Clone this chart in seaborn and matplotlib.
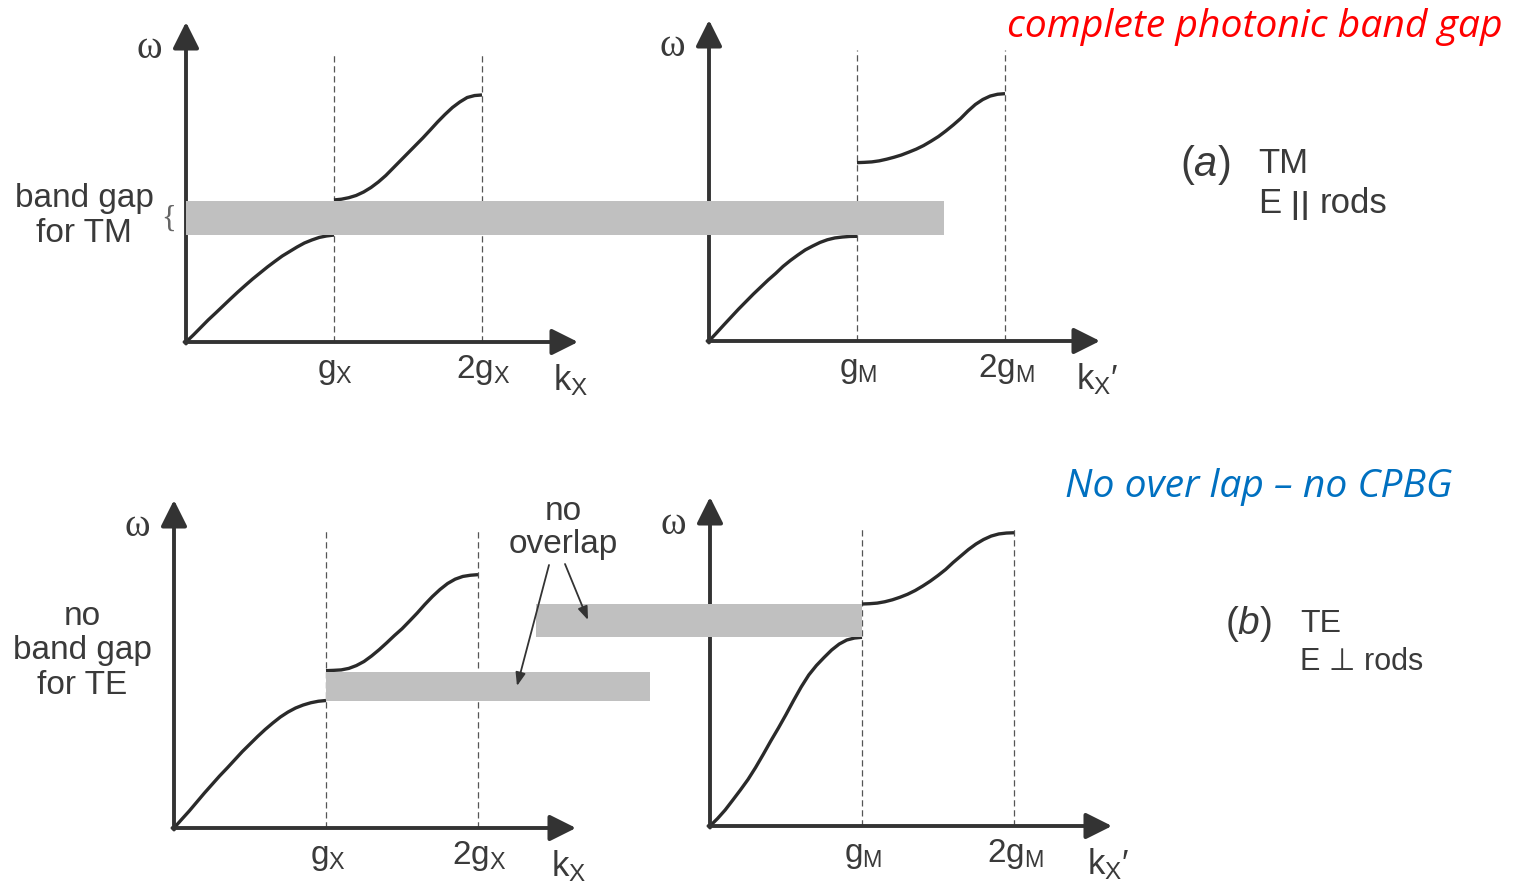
import matplotlib
matplotlib.use("Agg")
import matplotlib.pyplot as plt
import seaborn as sns
from matplotlib.patches import Rectangle, FancyArrowPatch

# Band diagram values.
# k in units of the reciprocal lattice vector g, omega in arbitrary units.
k_band1 = [0.0, 0.05, 0.1, 0.15, 0.2, 0.25, 0.3, 0.35, 0.4, 0.45, 0.5,
           0.55, 0.6, 0.65, 0.7, 0.75, 0.8, 0.85, 0.9, 0.95, 1.0]
k_band2 = [1.0, 1.05, 1.1, 1.15, 1.2, 1.25, 1.3, 1.35, 1.4, 1.45, 1.5,
           1.55, 1.6, 1.65, 1.7, 1.75, 1.8, 1.85, 1.9, 1.95, 2.0]

# (a) TM
tm_x_band1 = [0.0, 0.047, 0.097, 0.147, 0.193, 0.24, 0.287, 0.333, 0.377, 0.42, 0.46,
              0.50, 0.537, 0.573, 0.603, 0.633, 0.66, 0.68, 0.697, 0.707, 0.713]
tm_x_band2 = [0.947, 0.952, 0.962, 0.977, 1.0, 1.03, 1.067, 1.11, 1.16, 1.21, 1.26,
              1.31, 1.36, 1.413, 1.467, 1.517, 1.563, 1.6, 1.63, 1.643, 1.647]
tm_m_band1 = [0.0, 0.053, 0.107, 0.16, 0.213, 0.263, 0.313, 0.36, 0.407, 0.45, 0.497,
              0.537, 0.573, 0.607, 0.633, 0.657, 0.675, 0.687, 0.693, 0.697, 0.698]
tm_m_band2 = [1.189, 1.191, 1.194, 1.201, 1.212, 1.225, 1.24, 1.259, 1.279, 1.303, 1.332,
              1.363, 1.40, 1.44, 1.483, 1.533, 1.577, 1.61, 1.633, 1.645, 1.649]

# (b) TE
te_x_band1 = [0.0, 0.057, 0.113, 0.173, 0.233, 0.29, 0.347, 0.40, 0.455, 0.51, 0.56,
              0.61, 0.657, 0.70, 0.74, 0.773, 0.80, 0.82, 0.835, 0.845, 0.85]
te_x_band2 = [1.049, 1.051, 1.054, 1.064, 1.083, 1.11, 1.147, 1.189, 1.235, 1.283, 1.328,
              1.38, 1.433, 1.49, 1.543, 1.59, 1.63, 1.659, 1.677, 1.685, 1.689]
te_m_band1 = [0.0, 0.05, 0.107, 0.173, 0.24, 0.31, 0.39, 0.477, 0.567, 0.653, 0.743,
              0.837, 0.927, 1.007, 1.07, 1.123, 1.173, 1.213, 1.24, 1.253, 1.258]
te_m_band2 = [1.48, 1.482, 1.486, 1.495, 1.508, 1.525, 1.545, 1.57, 1.60, 1.633, 1.67,
              1.71, 1.757, 1.80, 1.843, 1.88, 1.91, 1.933, 1.947, 1.953, 1.955]

# gaps (omega low, omega high)
tm_gap = (0.71, 0.93)
te_gap_x = (0.85, 1.04)
te_gap_m = (1.26, 1.48)

ticks_x = [r"g$_\mathregular{X}$", r"2g$_\mathregular{X}$"]
ticks_m = [r"g$_\mathregular{M}$", r"2g$_\mathregular{M}$"]
klabel_x = r"k$_\mathregular{X}$"
klabel_m = r"k$_\mathregular{X}$′"

W, H = 1523, 892
OMEGA_PX = 150  # pixels per omega unit
INK = "#333333"
TXT = "#3a3a3a"

sns.set_theme(style="white")
plt.rcParams["font.family"] = ["Liberation Sans", "DejaVu Sans"]
plt.rcParams["mathtext.fontset"] = "custom"
plt.rcParams["mathtext.rm"] = "Liberation Sans"
plt.rcParams["mathtext.it"] = "Liberation Sans:italic"

fig = plt.figure(figsize=(W / 100, H / 100), dpi=100)


def fpos(x, y):
    """pixel position (from top-left) -> figure fraction"""
    return x / W, 1 - y / H


def make_panel(x0, y0, xtip, ytip, gpx):
    ax = fig.add_axes([x0 / W, 1 - y0 / H, (xtip - x0) / W, (y0 - ytip) / H])
    ax.set_xlim(0, (xtip - x0) / gpx)
    ax.set_ylim(0, (y0 - ytip) / OMEGA_PX)
    ax.axis("off")
    return ax


def draw_panel(ax, band1, band2, ticks, klabel):
    xmax = ax.get_xlim()[1]
    ymax = ax.get_ylim()[1]
    for k in (1, 2):
        ax.plot([k, k], [0, ymax - 0.2], ls=(0, (5, 3)), lw=0.9, color="#555555", clip_on=False)
    for kk, ww in ((k_band1, band1), (k_band2, band2)):
        sns.lineplot(x=kk, y=ww, ax=ax, color="#2a2a2a", lw=2.4, estimator=None,
                     sort=False, legend=False, clip_on=False,
                     solid_joinstyle="round", solid_capstyle="butt")
    arrow = dict(arrowstyle="-|>,head_length=0.8,head_width=0.4", mutation_scale=20,
                 lw=2.8, color=INK, shrinkA=0, shrinkB=0)
    ax.annotate("", xy=(xmax, 0), xytext=(-0.01, 0), arrowprops=arrow, annotation_clip=False)
    ax.annotate("", xy=(0, ymax), xytext=(0, -0.01), arrowprops=arrow, annotation_clip=False)
    for k, lab in zip((1, 2), ticks):
        ax.text(k + 0.01, -0.24, lab, ha="center", va="baseline", fontsize=24, color=TXT)
    ax.text(2.48, -0.32, klabel, ha="left", va="baseline", fontsize=25, color=TXT)
    ax.text(-0.245, ymax - 0.18, "ω", ha="center", va="center", fontsize=28, color=TXT,
            family=["Liberation Serif", "DejaVu Serif"])


def gap_bar(ax_a, k0, ax_b, k1, gap):
    xa = ax_a.transData.transform((k0, 0))[0]
    xb = ax_b.transData.transform((k1, 0))[0]
    _, ylo = ax_b.transData.transform((0, gap[0]))
    _, yhi = ax_b.transData.transform((0, gap[1]))
    inv = fig.transFigure.inverted()
    (fx0, fy0), (fx1, fy1) = inv.transform([(xa, ylo), (xb, yhi)])
    fig.add_artist(Rectangle((fx0, fy0), fx1 - fx0, fy1 - fy0, transform=fig.transFigure,
                             facecolor="#c0c0c0", edgecolor="none", zorder=5))


ax_tl = make_panel(186, 342, 578, 22, 148)
ax_tr = make_panel(709, 341, 1100, 20, 148)
ax_bl = make_panel(174, 828, 576, 500, 152)
ax_br = make_panel(710, 826, 1112, 497, 152)

draw_panel(ax_tl, tm_x_band1, tm_x_band2, ticks_x, klabel_x)
draw_panel(ax_tr, tm_m_band1, tm_m_band2, ticks_m, klabel_m)
draw_panel(ax_bl, te_x_band1, te_x_band2, ticks_x, klabel_x)
draw_panel(ax_br, te_m_band1, te_m_band2, ticks_m, klabel_m)

# gray gap bars
gap_bar(ax_tl, 0.0, ax_tr, 1.59, tm_gap)
gap_bar(ax_bl, 1.0, ax_bl, 3.13, te_gap_x)
gap_bar(ax_bl, 2.38, ax_br, 1.0, te_gap_m)

# "no overlap" arrows
for tail, tip in (((549, 565), (517, 686)), ((565, 564), (588, 620))):
    fig.add_artist(FancyArrowPatch(fpos(*tail), fpos(*tip), transform=fig.transFigure,
                                   arrowstyle="-|>,head_length=8,head_width=3", mutation_scale=1,
                                   lw=1.3, color=INK, shrinkA=0, shrinkB=0, zorder=6))

# side texts
fig.text(*fpos(84, 216), "band gap\nfor TM", ha="center", va="center", fontsize=24,
         linespacing=1.15, color=TXT)
fig.text(*fpos(169, 219), "{", ha="center", va="center", fontsize=22, color="#666666",
         family=["Liberation Serif", "DejaVu Serif"])
fig.text(*fpos(82, 651), "no\nband gap\nfor TE", ha="center", va="center", fontsize=24,
         linespacing=1.15, color=TXT)
fig.text(*fpos(563, 528), "no\noverlap", ha="center", va="center", fontsize=24,
         linespacing=1.1, color=TXT)

fig.text(*fpos(1205, 165), r"($\mathit{a}$)", ha="center", va="center", fontsize=30, color=TXT)
fig.text(*fpos(1258, 173), "TM", ha="left", va="baseline", fontsize=25, color=TXT)
fig.text(*fpos(1258, 213), "E", ha="left", va="baseline", fontsize=25, color=TXT)
fig.text(*fpos(1300, 206), "||", ha="center", va="center", fontsize=21, color=TXT,
         family="DejaVu Sans", weight="bold")
fig.text(*fpos(1320, 213), "rods", ha="left", va="baseline", fontsize=25, color=TXT)
fig.text(*fpos(1249, 624), r"($\mathit{b}$)", ha="center", va="center", fontsize=28, color=TXT)
fig.text(*fpos(1300, 632), "TE", ha="left", va="baseline", fontsize=23, color=TXT)
fig.text(*fpos(1300, 670), "E ⊥ rods", ha="left", va="baseline", fontsize=22, color=TXT)


def fit_text(x, y, s, width_px, **kw):
    t = fig.text(*fpos(x, y), s, fontsize=20, **kw)
    w = t.get_window_extent(renderer=fig.canvas.get_renderer()).width
    t.set_fontsize(20 * width_px / w)
    return t


fit_text(1503, 37, "complete photonic band gap", 496, ha="right", va="baseline",
         color="#ff0000", style="italic", family=["Open Sans", "DejaVu Sans"])
fit_text(1065, 497, "No over lap – no CPBG", 388, ha="left", va="baseline",
         color="#0070c0", style="italic", family=["Open Sans", "DejaVu Sans"])

fig.savefig("out.png", dpi=100)
